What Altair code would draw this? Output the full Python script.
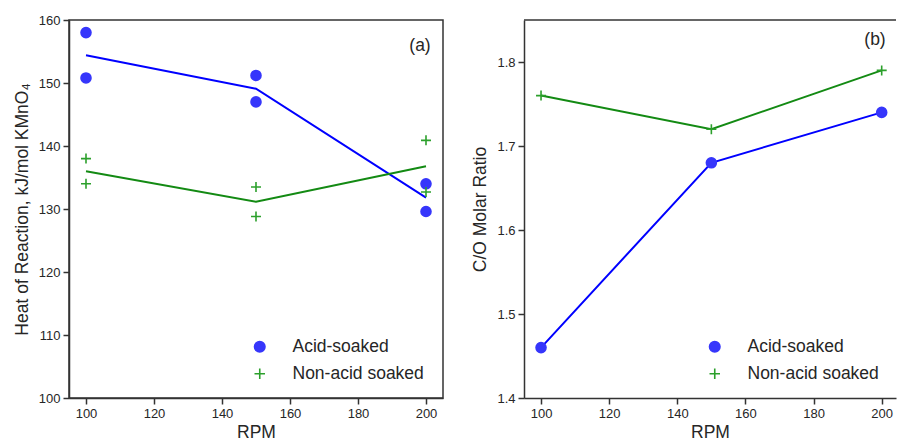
import altair as alt
import pandas as pd

series_names = ["Acid-soaked", "Non-acid soaked"]

# Panel (a): Heat of reaction (two replicates per RPM)
rpm_heat = [100, 100, 150, 150, 200, 200]
heat_acid = [158.0, 150.8, 151.2, 147.0, 134.0, 129.6]
heat_nonacid = [138.0, 134.0, 133.5, 128.8, 140.9, 132.7]

# Panel (b): C/O molar ratio
rpm_co = [100, 150, 200]
co_acid = [1.46, 1.68, 1.74]
co_nonacid = [1.76, 1.72, 1.79]

x_ticks = [100, 120, 140, 160, 180, 200]
heat_ticks = [100, 110, 120, 130, 140, 150, 160]
co_ticks = [1.4, 1.5, 1.6, 1.7, 1.8]

point_fill = ["#3636fb", "transparent"]
point_stroke = ["#3636fb", "#2ca02c"]
line_colors = ["#0000ff", "#138a13"]
shapes = ["circle", "M-1,0H1M0,-1V1"]

FONT = "Liberation Sans"
TXT = "#262626"
FRAME = "#333333"


def long_df(rpms, a, b):
    rows = []
    for r, v in zip(rpms, a):
        rows.append({"rpm": r, "value": v, "series": series_names[0]})
    for r, v in zip(rpms, b):
        rows.append({"rpm": r, "value": v, "series": series_names[1]})
    return pd.DataFrame(rows)


def panel(df, ytitle, ydomain, yticks, yfmt, label, label_y, xmax, width, full_frame):
    base = alt.Chart(df)
    x = alt.X("rpm:Q", scale=alt.Scale(domain=[95, xmax], nice=False, zero=False),
              axis=alt.Axis(values=x_ticks, title="RPM", titlePadding=3))
    yaxis = alt.Axis(values=yticks, format=yfmt, title=ytitle, titlePadding=7)
    yscale = alt.Scale(domain=ydomain, nice=False, zero=False)
    layers = []
    for name, col in zip(series_names, line_colors):
        layers.append(
            base.transform_filter(alt.datum.series == name).mark_line(strokeWidth=2, color=col).encode(
                x=x,
                y=alt.Y("mean(value):Q", scale=yscale, axis=yaxis),
            )
        )
    leg = alt.Legend(title=None, orient="none", legendX=182, legendY=318,
                     labelFontSize=17.5, labelOffset=24, rowPadding=8,
                     labelFont=FONT, labelColor=TXT, padding=0, symbolStrokeWidth=1.6,
                     symbolSize=110)
    layers.append(base.mark_point(size=100, opacity=1, strokeWidth=1.6, filled=False).encode(
        x=x,
        y=alt.Y("value:Q", scale=yscale, axis=yaxis),
        shape=alt.Shape("series:N", scale=alt.Scale(domain=series_names, range=shapes), legend=leg),
        fill=alt.Fill("series:N", scale=alt.Scale(domain=series_names, range=point_fill), legend=leg),
        stroke=alt.Stroke("series:N", scale=alt.Scale(domain=series_names, range=point_stroke), legend=leg),
    ))
    lab = pd.DataFrame({"label": [label]})
    layers.append(alt.Chart(lab).mark_text(
        fontSize=17.5, font=FONT, color=TXT, align="center", baseline="middle"
    ).encode(text="label:N", x=alt.value(351), y=alt.value(label_y)))
    if not full_frame:
        # top border only (right border lies beyond the visible page)
        layers.append(alt.Chart(lab).mark_rule(color=FRAME, strokeWidth=1.5).encode(
            x=alt.value(0), x2=alt.value(width), y=alt.value(0)))
        return alt.layer(*layers).properties(width=width, height=378,
                                             view=alt.ViewConfig(stroke="transparent"))
    return alt.layer(*layers).properties(width=width, height=378)


left = panel(long_df(rpm_heat, heat_acid, heat_nonacid),
             "Heat of Reaction, kJ/mol KMnO\u2084", [100, 160], heat_ticks, "d", "(a)", 26,
             205, 374, True)
right = panel(long_df(rpm_co, co_acid, co_nonacid),
              "C/O Molar Ratio", [1.4, 1.85], co_ticks, ".1f", "(b)", 20,
              204.2, 372, False)

chart = alt.hconcat(left, right, spacing=27).resolve_scale(
    fill="independent", stroke="independent", shape="independent"
).resolve_legend(
    fill="independent", stroke="independent", shape="independent"
).properties(
    padding={"left": 12, "top": 13, "right": 0, "bottom": 0},
    background="white",
).configure_view(
    stroke=FRAME, strokeWidth=1.5
).configure_axis(
    domainColor=FRAME, domainWidth=1.5, tickColor=FRAME, tickWidth=1.5, tickSize=6,
    labelFontSize=13, labelFont=FONT, labelColor=TXT, labelPadding=3,
    titleFontSize=17.5, titleFont=FONT, titleColor=TXT, titleFontWeight="normal", grid=False,
)

chart.save("out.html", embed_options={"renderer": "svg", "actions": False})
